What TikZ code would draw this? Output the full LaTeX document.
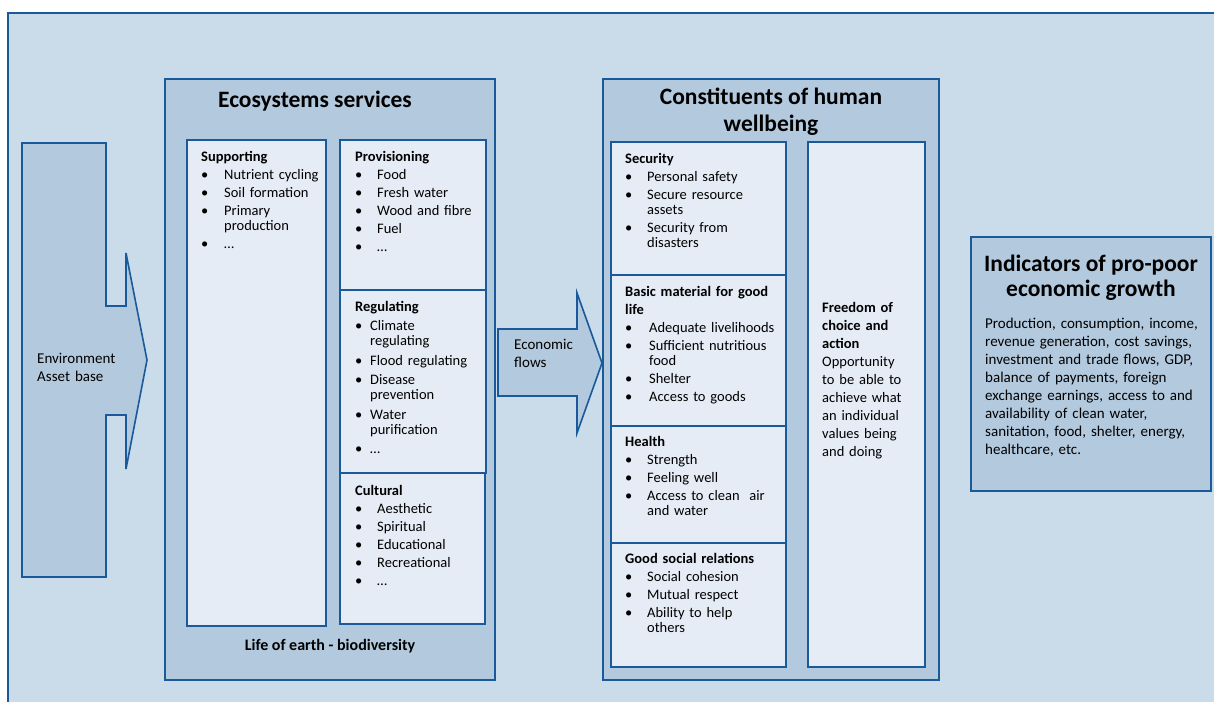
\documentclass[tikz,border=0pt]{standalone}
\usepackage{fontspec}
\setmainfont{Carlito}
\definecolor{frameblue}{HTML}{1A5A9A}
\definecolor{paleblue}{HTML}{CADBEA}
\definecolor{midblue}{HTML}{B3C9DE}
\definecolor{lightblue}{HTML}{E5ECF5}
% one bullet line with a hanging indent
\newcommand{\itm}[2]{\par\hangindent=#1\hangafter=1\noindent\makebox[#1][l]{\textbullet}#2\par}
\tikzset{
  panel/.style={draw=frameblue, line width=1.6pt, fill=midblue},
  card/.style={draw=frameblue, line width=1.6pt, fill=lightblue},
  listtext/.style={anchor=north west, inner sep=0pt, text width=#1,
    font=\fontsize{14.5}{15}\selectfont,
    execute at begin node={\parindent=0pt\parskip=3pt\rightskip=0pt plus 1fil\relax}},
  headtext/.style={font=\fontsize{23.5}{27}\selectfont\bfseries, align=center, inner sep=0pt},
}
\begin{document}
\begin{tikzpicture}[x=1pt,y=-1pt]
  \useasboundingbox (0,0) rectangle (1214,701);
  \fill[white] (0,0) rectangle (1214,701);
  \draw[frameblue, line width=1.6pt, fill=paleblue] (8,13) rectangle (1230,720);

  % environment asset base
  \draw[panel] (22,143) -- (106,143) -- (106,306) -- (126,306) -- (126,253)
    -- (147,360) -- (126,469) -- (126,415) -- (106,415) -- (106,577)
    -- (22,577) -- cycle;
  \node[listtext=90pt, font=\fontsize{15}{18}\selectfont] (envtext) at (37,353)
    {Environment\newline Asset base};

  % ecosystems services
  \draw[panel] (165,79) rectangle (495,680);
  \node[headtext] (ecotitle) at (315,101) {Ecosystems services};
  \draw[card] (187,140) rectangle (326,626);
  \draw[card] (340,140) rectangle (486,290);
  \draw[card] (340,290) rectangle (486,473);
  \draw[card] (340,473) rectangle (485,624);
  \node[listtext=122pt] (supporting) at (201,151) {\textbf{Supporting}
    \itm{23pt}{Nutrient cycling}\itm{23pt}{Soil formation}
    \itm{23pt}{Primary\newline production}\itm{23pt}{\dots}};
  \node[listtext=128pt] (provisioning) at (355,151) {\textbf{Provisioning}
    \itm{22pt}{Food}\itm{22pt}{Fresh water}\itm{22pt}{Wood and fibre}
    \itm{22pt}{Fuel}\itm{22pt}{\dots}};
  \node[listtext=128pt, execute at begin node={\parskip=4.5pt}] (regulating) at (355,301)
    {\textbf{Regulating}
    \itm{15pt}{Climate\newline regulating}\itm{15pt}{Flood regulating}
    \itm{15pt}{Disease\newline prevention}\itm{15pt}{Water\newline purification}
    \itm{15pt}{\dots}};
  \node[listtext=128pt] (cultural) at (355,485) {\textbf{Cultural}
    \itm{22pt}{Aesthetic}\itm{22pt}{Spiritual}\itm{22pt}{Educational}
    \itm{22pt}{Recreational}\itm{22pt}{\dots}};
  \node[inner sep=0pt, font=\fontsize{16}{18}\selectfont\bfseries] (biodiv) at (330,646)
    {Life of earth - biodiversity};

  % economic flows
  \draw[panel] (498,329) -- (577,329) -- (577,293) -- (602,363) -- (577,433)
    -- (577,396) -- (498,396) -- cycle;
  \node[listtext=70pt, font=\fontsize{15}{18}\selectfont] (ecoflows) at (514,339)
    {Economic\newline flows};

  % constituents of human wellbeing
  \draw[panel] (603,79) rectangle (939,680);
  \node[headtext] (cwtitle) at (771,112) {Constituents of human\\wellbeing};
  \draw[card] (611,142) rectangle (786,275);
  \draw[card] (611,275) rectangle (786,426);
  \draw[card] (611,426) rectangle (786,543);
  \draw[card] (611,543) rectangle (786,667);
  \draw[card] (808,142) rectangle (925,667);
  \node[listtext=158pt] (security) at (625,153) {\textbf{Security}
    \itm{22pt}{Personal safety}\itm{22pt}{Secure resource\newline assets}
    \itm{22pt}{Security from\newline disasters}};
  \node[listtext=158pt] (basic) at (625,286) {\textbf{Basic material for good}\par
    \textbf{life}
    \itm{24pt}{Adequate livelihoods}\itm{24pt}{Sufficient nutritious\newline food}
    \itm{24pt}{Shelter}\itm{24pt}{Access to goods}};
  \node[listtext=158pt] (health) at (625,436) {\textbf{Health}
    \itm{22pt}{Strength}\itm{22pt}{Feeling well}
    \itm{22pt}{Access to clean\ \ air\newline and water}};
  \node[listtext=158pt] (social) at (625,553) {\textbf{Good social relations}
    \itm{22pt}{Social cohesion}\itm{22pt}{Mutual respect}
    \itm{22pt}{Ability to help\newline others}};
  \node[listtext=100pt, font=\fontsize{14.5}{18}\selectfont] (freedom) at (822,302)
    {\textbf{Freedom of\newline choice and\newline action}\newline Opportunity\newline
    to be able to\newline achieve what\newline an individual\newline values being\newline
    and doing};

  % indicators
  \draw[panel] (971,237) rectangle (1211,491);
  \node[headtext, font=\fontsize{23.5}{25}\selectfont\bfseries] (indtitle) at (1091,278)
    {Indicators of pro-poor\\economic growth};
  \node[listtext=225pt, font=\fontsize{15}{18}\selectfont] (indtext) at (985,318)
    {Production, consumption, income,\newline revenue generation, cost savings,\newline
    investment and trade flows, GDP,\newline balance of payments, foreign\newline
    exchange earnings, access to and\newline availability of clean water,\newline
    sanitation, food, shelter, energy,\newline healthcare, etc.};
\end{tikzpicture}
\end{document}
